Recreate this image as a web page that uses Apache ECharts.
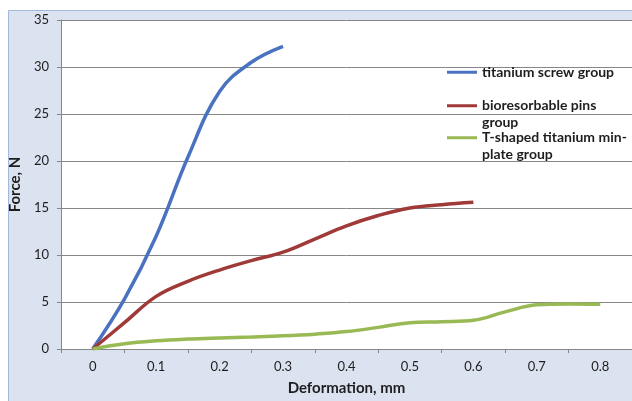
<!DOCTYPE html>
<html>
<head>
<meta charset="utf-8">
<script src="https://cdn.jsdelivr.net/npm/echarts@6/dist/echarts.min.js"></script>
<style>
html,body{margin:0;padding:0;background:#fff;}
#c{width:632px;height:401px;}
</style>
</head>
<body>
<div id="c"></div>
<script>
const categories = ['0','0.1','0.2','0.3','0.4','0.5','0.6','0.7','0.8'];
const seriesNames = ['titanium screw group','bioresorbable pins group','T-shaped titanium min-plate group'];
const legendLabels = ['titanium screw group','\nbioresorbable pins\ngroup','\nT-shaped titanium min-\nplate group'];
const titaniumX = [0, 0.05, 0.1, 0.15, 0.2, 0.25, 0.3];
const titaniumY = [0, 5.3, 12.0, 20.4, 27.4, 30.5, 32.2];
const pinsX = [0, 0.05, 0.1, 0.15, 0.2, 0.25, 0.3, 0.35, 0.4, 0.45, 0.5, 0.55, 0.6];
const pinsY = [0, 2.8, 5.6, 7.2, 8.4, 9.4, 10.3, 11.7, 13.1, 14.2, 15.0, 15.35, 15.6];
const plateX = [0, 0.05, 0.1, 0.15, 0.2, 0.25, 0.3, 0.35, 0.4, 0.45, 0.5, 0.55, 0.6, 0.65, 0.7, 0.75, 0.8];
const plateY = [0, 0.55, 0.87, 1.06, 1.18, 1.28, 1.4, 1.58, 1.85, 2.3, 2.8, 2.9, 3.05, 3.95, 4.7, 4.8, 4.75];
const yTicks = [0, 35, 5];

const colors = ['#4a72c0', '#a03a38', '#98b954'];
const FONT = 'Lato, "Open Sans", sans-serif';

function pairs(xs, ys){ return xs.map((x,i)=>[x, ys[i]]); }

const chart = echarts.init(document.getElementById('c'), null, {renderer:'canvas'});

function legendFor(i, top){
  return {
    left: 447, top: top, padding: 0,
    icon: 'rect', itemWidth: 30, itemHeight: 3, itemGap: 0,
    data: [seriesNames[i]],
    formatter: () => legendLabels[i],
    selectedMode: false,
    textStyle: {
      fontFamily: FONT, fontSize: 14, fontWeight: 'bold', color: '#1e1e1e',
      lineHeight: 16.5
    }
  };
}

chart.setOption({
  animation: false,
  color: colors,
  graphic: [{
    type: 'rect', z: -10, silent: true,
    shape: {x: 8.5, y: 10.5, width: 640, height: 400},
    style: {fill: '#dbe2f0', stroke: '#a4b7dd', lineWidth: 1}
  }],
  grid: {
    left: 60, top: 20, width: 579, height: 329,
    show: true, backgroundColor: '#ffffff', borderWidth: 0
  },
  legend: [legendFor(0, 64), legendFor(1, 81), legendFor(2, 113)],
  xAxis: [{
    type: 'category', data: categories, boundaryGap: true,
    name: 'Deformation, mm', nameLocation: 'middle', nameGap: 32,
    nameTextStyle: {fontFamily: FONT, fontSize: 15, fontWeight: 'bold', color: '#1e1e1e'},
    axisLine: {lineStyle: {color: '#868686', width: 1}},
    axisTick: {show: true, length: 4, lineStyle: {color: '#868686'}},
    axisLabel: {fontFamily: FONT, fontSize: 13, color: '#1e1e1e', margin: 11},
    splitLine: {show: false}
  },{
    type: 'value', min: -0.05, max: 0.85, show: false
  }],
  yAxis: {
    type: 'value', min: yTicks[0], max: yTicks[1], interval: yTicks[2],
    name: 'Force, N', nameLocation: 'middle', nameGap: 26, nameRotate: 90,
    nameTextStyle: {fontFamily: FONT, fontSize: 15, fontWeight: 'bold', color: '#1e1e1e'},
    axisLine: {show: true, onZero: false, lineStyle: {color: '#868686', width: 1}},
    axisTick: {show: true, length: 4, lineStyle: {color: '#868686'}},
    axisLabel: {fontFamily: FONT, fontSize: 13, color: '#1e1e1e', margin: 12},
    splitLine: {show: true, lineStyle: {color: '#878787', width: 1}}
  },
  series: [
    {name: seriesNames[0], type: 'line', xAxisIndex: 1, data: pairs(titaniumX, titaniumY), smooth: 0.4, showSymbol: false, lineStyle: {width: 3.5}},
    {name: seriesNames[1], type: 'line', xAxisIndex: 1, data: pairs(pinsX, pinsY), smooth: 0.4, showSymbol: false, lineStyle: {width: 3.5}},
    {name: seriesNames[2], type: 'line', xAxisIndex: 1, data: pairs(plateX, plateY), smooth: 0.4, showSymbol: false, lineStyle: {width: 3.5}}
  ]
});
</script>
</body>
</html>
